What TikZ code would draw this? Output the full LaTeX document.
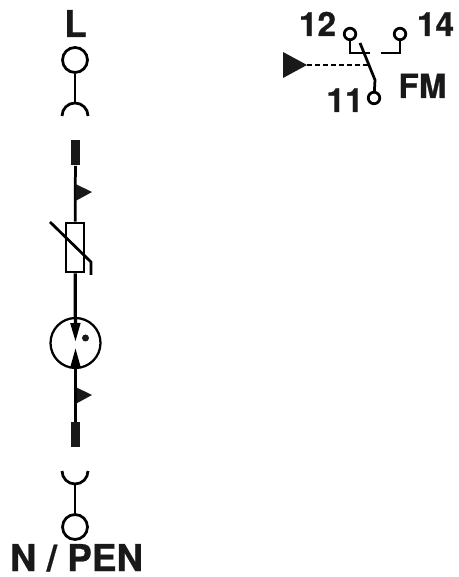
\documentclass[tikz,border=0pt]{standalone}
\usepackage{fontspec}
\setmainfont[BoldFeatures={FakeBold=0.6}]{TeX Gyre Heros}
\usetikzlibrary{arrows.meta}
\begin{document}
\begin{tikzpicture}[x=0.02cm,y=0.02cm,
    conn/.style={line width=0.055cm},
    term/.style={draw,circle,line width=0.055cm,inner sep=0pt,minimum size=0.5cm},
    small/.style={draw,circle,line width=0.055cm,inner sep=0pt,minimum size=0.23cm},
    bar/.style={fill=black!90,rectangle,inner sep=0pt,minimum width=0.18cm,minimum height=0.5cm},
    big/.style={font=\bfseries\fontsize{21}{21}\selectfont,inner sep=0pt,anchor=base,text=black!90,text depth=0pt},
    mid/.style={font=\bfseries\fontsize{19}{19}\selectfont,inner sep=0pt,anchor=base,text=black!90,text depth=0pt},
    arr/.style={-{Triangle[length=0.38cm,width=0.19cm]}}]
    \useasboundingbox (0,0) rectangle (458,577);

    \node[big] (lbl) at (75.5,540) {L};
    \node[big] (npen) at (76.5,6) {N / PEN};

    \node[term] (top) at (75,517) {};
    \node[term] (bot) at (75,50) {};
    \coordinate (cuptop) at (75,474);
    \coordinate (cupbot) at (75,93);
    \draw[conn] (62,461) arc (180:0:13);
    \draw[conn] (62,106) arc (180:360:13);
    \draw[conn] (top) -- (cuptop) (bot) -- (cupbot);

    \node[bar] (bar1) at (75.5,424) {};
    \node[bar] (bar2) at (75.5,142.5) {};
    \node[draw,rectangle,line width=0.055cm,inner sep=0pt,minimum width=0.36cm,minimum height=0.98cm] (var) at (75,329.5) {};
    \draw[conn] (bar1) -- (var);
    \draw[conn] (50,355) -- (91,315) -- (91,302);
    \fill[black!90] (75.5,393) -- (92,385) -- (75.5,376) -- cycle;
    \fill[black!90] (75.5,190) -- (92,182) -- (75.5,173) -- cycle;

    \node[draw,circle,line width=0.045cm,inner sep=0pt,minimum size=1cm] (gap) at (75.5,234) {};
    \fill[black!90] (85.5,239) circle (3.5);
    \coordinate (tipa) at (75.5,235);
    \coordinate (tipb) at (75.5,229);
    \draw[conn,arr,line width=0.065cm] (var) -- (tipa);
    \draw[conn,arr] (bar2) -- (tipb);

    % relay
    \node[mid] (n12) at (317.5,541) {12};
    \node[mid] (n14) at (435.5,541) {14};
    \node[mid] (n11) at (345,465) {11};
    \node[mid] (fm) at (422.5,479) {FM};
    \node[small] (c12) at (350,543) {};
    \node[small] (c14) at (400,543) {};
    \node[small] (c11) at (374,479) {};
    \coordinate (s12) at (370,524);
    \coordinate (s14) at (381,524);
    \draw[conn] (c12) |- (s12) (c14) |- (s14);
    \draw[conn] (c11) -- (375,497) -- (360,534);
    \fill[black!90] (283,525) -- (307,512) -- (283,499) -- cycle;
    \draw[line width=0.025cm,dash pattern=on 0.1cm off 0.06cm] (307,512) -- (368,512);
\end{tikzpicture}
\end{document}
